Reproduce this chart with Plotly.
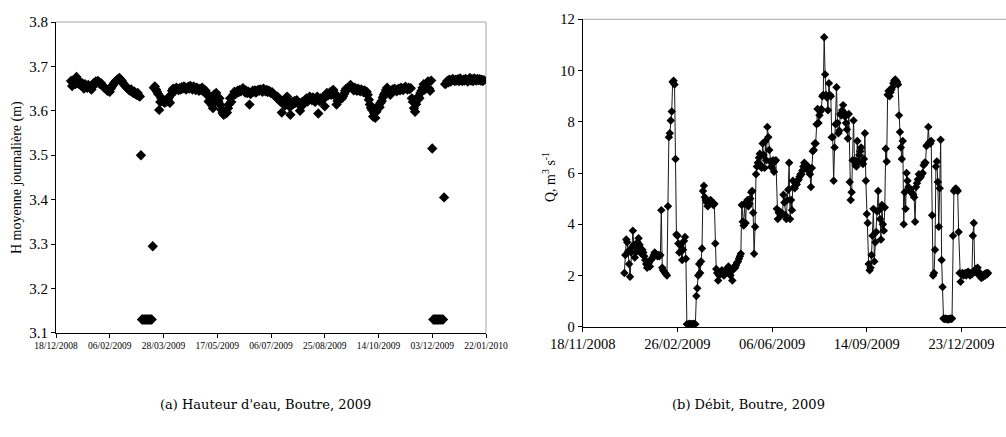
import pandas as pd
import plotly.graph_objects as go

# Daily mean water level H (m) at Boutre, one list per month (01/01/2009 - 20/01/2010)
h_jan = [3.667, 3.656, 3.663, 3.670, 3.660, 3.676, 3.668, 3.661, 3.665, 3.658,
         3.663, 3.656, 3.650, 3.660, 3.655, 3.652, 3.658, 3.654, 3.650, 3.648,
         3.655, 3.662, 3.660, 3.666, 3.663, 3.667, 3.664, 3.660, 3.662, 3.657, 3.655]
h_feb = [3.652, 3.650, 3.648, 3.645, 3.647, 3.643, 3.650, 3.655, 3.658, 3.662,
         3.665, 3.668, 3.670, 3.672, 3.674, 3.670, 3.668, 3.664, 3.660, 3.657,
         3.655, 3.652, 3.650, 3.647, 3.645, 3.648, 3.642, 3.640]
h_mar = [3.643, 3.638, 3.636, 3.640, 3.634, 3.632, 3.500,
         3.13, 3.13, 3.13, 3.13, 3.13, 3.13, 3.13, 3.13, 3.13, 3.13,
         3.295, 3.652, 3.655, 3.648, 3.643, 3.638, 3.602, 3.620, 3.628, 3.622,
         3.625, 3.618, 3.624, 3.621]
h_apr = [3.626, 3.630, 3.618, 3.636, 3.645, 3.650, 3.648, 3.646, 3.652, 3.649,
         3.647, 3.651, 3.648, 3.653, 3.650, 3.655, 3.652, 3.648, 3.651, 3.654,
         3.650, 3.656, 3.652, 3.648, 3.655, 3.651, 3.647, 3.652, 3.649, 3.645]
h_may = [3.650, 3.647, 3.652, 3.645, 3.642, 3.646, 3.640, 3.635, 3.621, 3.630,
         3.625, 3.613, 3.606, 3.636, 3.625, 3.640, 3.632, 3.621, 3.628, 3.613,
         3.602, 3.595, 3.591, 3.598, 3.594, 3.596, 3.606, 3.615, 3.628, 3.620, 3.632]
h_jun = [3.636, 3.643, 3.638, 3.640, 3.645, 3.642, 3.647, 3.644, 3.648, 3.651,
         3.646, 3.641, 3.645, 3.640, 3.643, 3.614, 3.638, 3.642, 3.645, 3.643,
         3.646, 3.641, 3.644, 3.647, 3.645, 3.648, 3.646, 3.643, 3.650, 3.646]
h_jul = [3.644, 3.647, 3.642, 3.645, 3.643, 3.640, 3.642, 3.638, 3.636, 3.633,
         3.630, 3.632, 3.627, 3.624, 3.620, 3.596, 3.617, 3.622, 3.612, 3.628,
         3.632, 3.621, 3.610, 3.591, 3.612, 3.620, 3.616, 3.622, 3.618, 3.624, 3.620]
h_aug = [3.615, 3.600, 3.610, 3.620, 3.614, 3.618, 3.624, 3.628, 3.621, 3.625,
         3.632, 3.628, 3.624, 3.630, 3.627, 3.620, 3.625, 3.632, 3.594, 3.622,
         3.628, 3.624, 3.630, 3.627, 3.610, 3.632, 3.640, 3.635, 3.638, 3.642, 3.636]
h_sep = [3.645, 3.647, 3.640, 3.632, 3.614, 3.622, 3.628, 3.625, 3.630, 3.628,
         3.633, 3.638, 3.645, 3.650, 3.648, 3.652, 3.655, 3.658, 3.655, 3.650,
         3.646, 3.652, 3.648, 3.645, 3.650, 3.647, 3.644, 3.648, 3.645, 3.642]
h_oct = [3.646, 3.640, 3.643, 3.636, 3.625, 3.614, 3.607, 3.602, 3.587, 3.595,
         3.584, 3.598, 3.605, 3.612, 3.608, 3.618, 3.622, 3.630, 3.636, 3.640,
         3.647, 3.652, 3.645, 3.640, 3.636, 3.643, 3.648, 3.645, 3.650, 3.647, 3.644]
h_nov = [3.648, 3.650, 3.646, 3.652, 3.649, 3.647, 3.651, 3.654, 3.650, 3.648,
         3.652, 3.649, 3.651, 3.628, 3.620, 3.606, 3.598, 3.615, 3.624, 3.632,
         3.628, 3.640, 3.645, 3.652, 3.660, 3.648, 3.655, 3.662, 3.666, 3.650]
h_dec = [3.645, 3.668, 3.515,
         3.13, 3.13, 3.13, 3.13, 3.13, 3.13, 3.13, 3.13, 3.13, 3.13,
         3.405, 3.660, 3.662, 3.667, 3.664, 3.670, 3.666, 3.668, 3.672, 3.669,
         3.667, 3.670, 3.668, 3.671, 3.667, 3.673, 3.669, 3.667]
h_jan10 = [3.670, 3.668, 3.672, 3.669, 3.666, 3.670, 3.674, 3.668, 3.671, 3.667,
           3.673, 3.670, 3.668, 3.672, 3.669, 3.671, 3.668, 3.670, 3.667, 3.669]

# Daily discharge Q (m3/s) at Boutre, same days
q_jan = [2.1, 2.8, 3.4, 3.3, 2.95, 2.45, 1.95, 2.9, 3.1, 3.75, 3.2, 2.7, 2.9, 3.05,
         3.3, 3.45, 3.2, 3.0, 2.85, 3.0, 2.9, 2.75, 2.6, 2.45, 2.3, 2.4, 2.5, 2.35,
         2.6, 2.65, 2.7]
q_feb = [2.8, 2.9, 2.85, 2.8, 2.75, 2.8, 2.75, 2.8, 4.55, 2.3, 2.2, 2.15, 2.1, 2.05,
         2.0, 4.7, 7.4, 7.55, 8.05, 8.4, 9.55, 9.6, 9.45, 6.55, 3.6, 3.55, 3.25, 2.9]
q_mar = [3.2, 2.95, 2.6, 3.0, 3.35, 3.5, 2.65, 0.1, 0.08, 0.1, 0.12, 0.1, 0.1, 0.1,
         0.12, 0.1, 0.1, 1.2, 1.5, 2.0, 2.45, 2.1, 2.55, 3.05, 5.3, 5.5, 5.05, 4.95,
         4.85, 4.7, 4.75]
q_apr = [4.85, 4.95, 4.9, 4.8, 4.75, 4.8, 3.25, 2.25, 2.1, 1.8, 2.0, 2.1, 2.15, 2.2,
         2.1, 2.0, 2.05, 2.1, 2.2, 2.3, 2.35, 2.2, 2.0, 2.15, 1.8, 2.25, 2.35, 2.3,
         2.4, 2.5]
q_may = [2.55, 2.65, 2.75, 2.85, 4.75, 4.1, 3.95, 4.8, 4.05, 4.85, 4.95, 4.7, 4.8,
         5.0, 5.25, 5.3, 4.45, 2.85, 3.9, 5.95, 6.25, 6.4, 6.6, 6.75, 6.3, 6.2, 7.15,
         6.7, 6.2, 7.25, 6.5]
q_jun = [7.8, 7.4, 6.9, 6.45, 6.25, 6.2, 6.5, 6.05, 6.45, 6.5, 4.6, 4.2, 4.45, 4.5,
         4.35, 4.45, 4.4, 5.15, 4.85, 4.35, 4.2, 4.95, 5.35, 6.4, 4.2, 4.95, 4.55,
         5.7, 5.45, 5.4]
q_jul = [5.6, 5.55, 5.7, 5.75, 5.85, 5.95, 5.95, 6.1, 6.25, 6.4, 6.35, 6.3, 6.2,
         6.25, 6.05, 5.95, 5.45, 6.2, 6.85, 6.9, 7.15, 7.15, 7.9, 8.5, 7.95, 8.25,
         8.4, 8.5, 9.0, 9.05, 11.3]
q_aug = [9.85, 9.05, 8.95, 8.45, 9.5, 9.05, 9.0, 7.4, 7.4, 5.7, 7.0, 7.9, 9.35,
         7.95, 7.55, 7.65, 8.3, 8.25, 8.45, 8.65, 8.35, 8.2, 7.95, 7.7, 7.35, 8.3,
         5.65, 4.95, 5.25, 6.5, 8.05]
q_sep = [6.5, 6.3, 6.25, 7.25, 6.45, 6.7, 6.85, 7.0, 6.4, 6.35, 6.55, 7.55, 5.7,
         4.4, 4.05, 2.45, 2.2, 2.3, 2.8, 3.55, 4.6, 2.55, 3.3, 3.7, 4.5, 5.3, 4.55,
         4.2, 3.4, 4.75]
q_oct = [4.0, 3.75, 4.65, 6.95, 6.45, 9.05, 9.2, 9.0, 9.15, 9.25, 9.35, 9.5, 9.6,
         9.65, 9.6, 9.55, 9.45, 8.25, 7.6, 7.0, 6.55, 7.25, 4.0, 5.25, 4.6, 6.0,
         5.7, 5.45, 5.4, 5.35, 5.25]
q_nov = [5.2, 5.15, 5.05, 4.1, 5.45, 5.6, 5.75, 5.95, 5.8, 5.85, 5.95, 6.0, 6.3,
         6.4, 6.4, 7.05, 7.1, 7.8, 7.2, 7.15, 7.25, 4.35, 2.0, 2.1, 3.0, 6.25, 6.45,
         5.65, 3.9, 5.4]
q_dec = [7.3, 2.6, 1.55, 0.32, 0.3, 0.32, 0.3, 0.3, 0.28, 0.3, 0.32, 0.3, 0.32,
         3.55, 5.3, 5.35, 5.4, 5.35, 5.3, 3.7, 2.1, 1.75, 2.05, 2.1, 2.0, 2.05, 2.1,
         2.0, 2.1, 2.15, 2.05]
q_jan10 = [2.0, 2.1, 2.05, 3.55, 4.05, 2.15, 2.25, 2.1, 2.3, 2.15, 2.05, 1.95, 1.9,
           2.0, 1.95, 2.05, 2.0, 2.1, 2.05, 2.1]

h_ticks = ["18/12/2008", "06/02/2009", "28/03/2009", "17/05/2009", "06/07/2009",
           "25/08/2009", "14/10/2009", "03/12/2009", "22/01/2010"]
q_ticks = ["18/11/2008", "26/02/2009", "06/06/2009", "14/09/2009", "23/12/2009"]

h_values = (h_jan + h_feb + h_mar + h_apr + h_may + h_jun + h_jul + h_aug + h_sep
            + h_oct + h_nov + h_dec + h_jan10)
q_values = (q_jan + q_feb + q_mar + q_apr + q_may + q_jun + q_jul + q_aug + q_sep
            + q_oct + q_nov + q_dec + q_jan10)
days = pd.date_range("2009-01-01", periods=len(h_values), freq="D")


def to_dates(labels):
    return [pd.to_datetime(s, dayfirst=True).strftime("%Y-%m-%d") for s in labels]


SERIF = "Liberation Serif"
W, H = 1006, 437

fig = go.Figure()
fig.add_trace(go.Scatter(
    x=days, y=h_values, mode="markers", xaxis="x", yaxis="y",
    marker=dict(symbol="diamond", size=8, color="black", line=dict(width=0)),
    showlegend=False))
fig.add_trace(go.Scatter(
    x=days, y=q_values, mode="lines+markers", xaxis="x2", yaxis="y2",
    line=dict(color="#1a1a1a", width=1),
    marker=dict(symbol="diamond", size=6.5, color="black", line=dict(width=0)),
    showlegend=False))

axis_common = dict(showgrid=False, zeroline=False, showline=True, linecolor="black",
                   linewidth=1, ticks="outside", ticklen=4, tickcolor="black",
                   tickwidth=1, mirror=False, automargin=False)

h_tickdates = to_dates(h_ticks)
q_tickdates = to_dates(q_ticks)

fig.update_layout(
    template="none",
    width=W, height=H, autosize=False,
    margin=dict(l=0, r=0, t=0, b=0, pad=0),
    paper_bgcolor="white", plot_bgcolor="white",
    xaxis=dict(axis_common, type="date", domain=[56 / W, 486 / W],
               range=[h_tickdates[0], h_tickdates[-1]],
               tickmode="array", tickvals=h_tickdates, ticktext=h_ticks,
               tickfont=dict(family=SERIF, size=9.5, color="black"), anchor="y"),
    yaxis=dict(axis_common, domain=[1 - 332.8 / H, 1 - 22 / H], range=[3.1, 3.8],
               dtick=0.1, tick0=3.1, tickformat=".1f",
               tickfont=dict(family=SERIF, size=15, color="black"), anchor="x"),
    xaxis2=dict(axis_common, type="date", domain=[582.7 / W, 1.0],
                range=["2008-11-18", "2010-02-08"],
                tickmode="array", tickvals=q_tickdates, ticktext=q_ticks,
                tickfont=dict(family=SERIF, size=14.5, color="black"), anchor="y2"),
    yaxis2=dict(axis_common, domain=[1 - 326.7 / H, 1 - 19.3 / H], range=[0, 12],
                dtick=2, tick0=0,
                tickfont=dict(family=SERIF, size=14.5, color="black"), anchor="x2"),
)

# light grey plot-area border (top and right)
border = dict(type="line", line=dict(color="#a6a6a6", width=1), layer="below")
fig.add_shape(border, xref="x domain", yref="y domain", x0=0, x1=1, y0=1, y1=1)
fig.add_shape(border, xref="x domain", yref="y domain", x0=1, x1=1, y0=0, y1=1)
fig.add_shape(border, xref="x2 domain", yref="y2 domain", x0=0, x1=1, y0=1, y1=1)

centred = dict(xref="paper", yref="paper", showarrow=False,
               xanchor="center", yanchor="middle")

# axis titles
fig.add_annotation(centred, text="H moyenne journalière (m)", x=17 / W, y=1 - 178 / H,
                   textangle=-90, font=dict(family=SERIF, size=14, color="black"))
fig.add_annotation(centred, text="Q, m<sup>3</sup> s<sup>-1</sup>",
                   x=549 / W, y=1 - 177 / H, textangle=-90,
                   font=dict(family=SERIF, size=14, color="black"))

# sub-figure captions
fig.add_annotation(centred, text="(a) Hauteur d'eau, Boutre, 2009",
                   x=265 / W, y=1 - 404 / H,
                   font=dict(family="DejaVu Serif", size=13, color="black"))
fig.add_annotation(centred, text="(b) Débit, Boutre, 2009",
                   x=748 / W, y=1 - 404 / H,
                   font=dict(family="DejaVu Serif", size=13, color="black"))

fig.write_html("out.html")
